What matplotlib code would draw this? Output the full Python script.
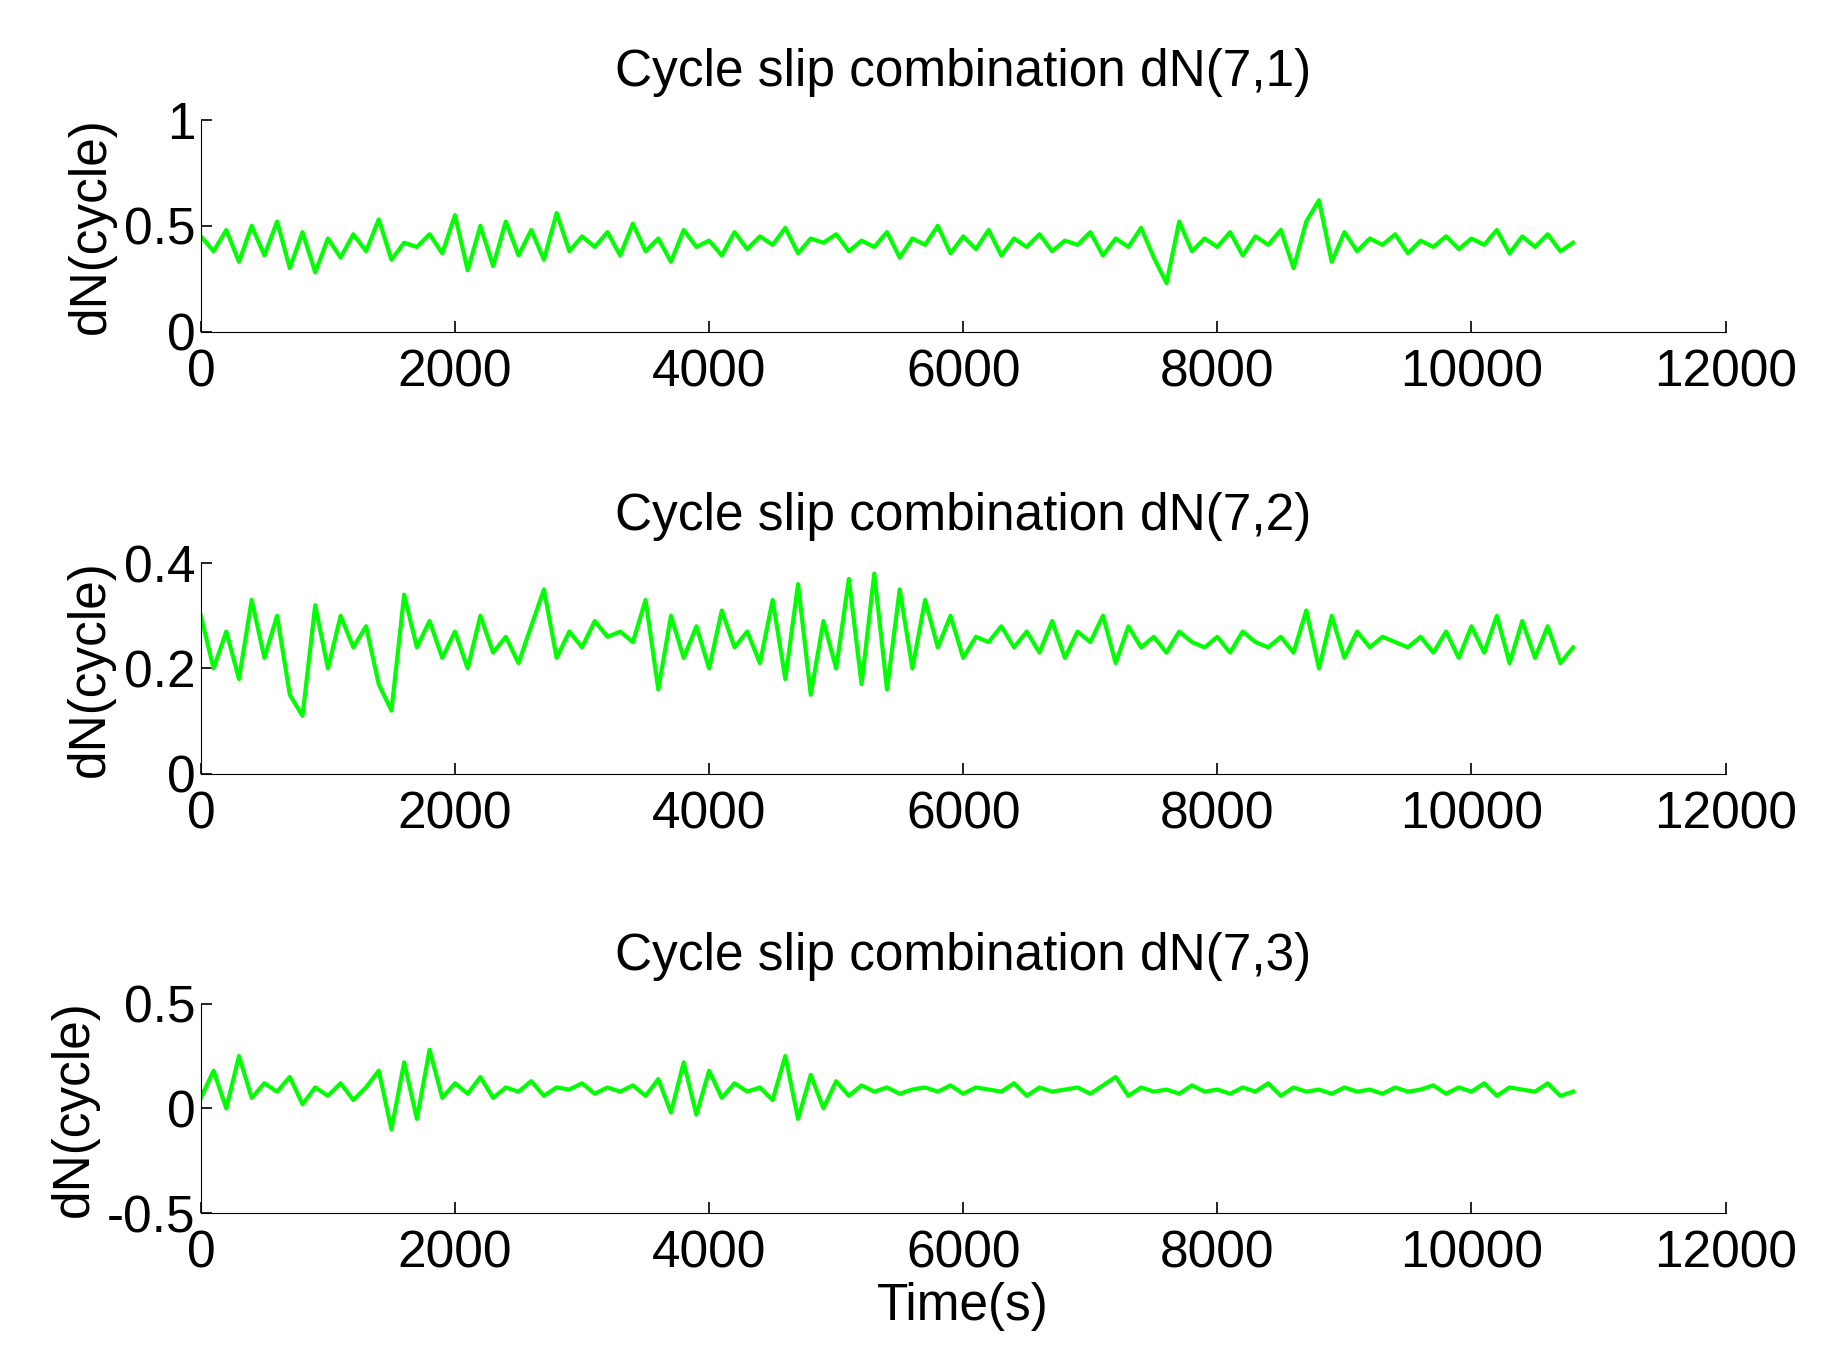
import matplotlib
matplotlib.use("Agg")
import matplotlib.pyplot as plt

plt.rcParams['font.family'] = ['Liberation Sans', 'DejaVu Sans']

time_s = list(range(0, 10900, 100))
dn71 = [0.45,0.38,0.48,0.33,0.50,0.36,0.52,0.30,0.47,0.28,
        0.44,0.35,0.46,0.38,0.53,0.34,0.42,0.40,0.46,0.37,
        0.55,0.29,0.50,0.31,0.52,0.36,0.48,0.34,0.56,0.38,
        0.45,0.40,0.47,0.36,0.51,0.38,0.44,0.33,0.48,0.40,
        0.43,0.36,0.47,0.39,0.45,0.41,0.49,0.37,0.44,0.42,
        0.46,0.38,0.43,0.40,0.47,0.35,0.44,0.41,0.50,0.37,
        0.45,0.39,0.48,0.36,0.44,0.40,0.46,0.38,0.43,0.41,
        0.47,0.36,0.44,0.40,0.49,0.35,0.23,0.52,0.38,0.44,
        0.40,0.47,0.36,0.45,0.41,0.48,0.30,0.52,0.62,0.33,
        0.47,0.38,0.44,0.41,0.46,0.37,0.43,0.40,0.45,0.39,
        0.44,0.41,0.48,0.37,0.45,0.40,0.46,0.38,0.42]
dn72 = [0.30,0.20,0.27,0.18,0.33,0.22,0.30,0.15,0.11,0.32,
        0.20,0.30,0.24,0.28,0.17,0.12,0.34,0.24,0.29,0.22,
        0.27,0.20,0.30,0.23,0.26,0.21,0.28,0.35,0.22,0.27,
        0.24,0.29,0.26,0.27,0.25,0.33,0.16,0.30,0.22,0.28,
        0.20,0.31,0.24,0.27,0.21,0.33,0.18,0.36,0.15,0.29,
        0.20,0.37,0.17,0.38,0.16,0.35,0.20,0.33,0.24,0.30,
        0.22,0.26,0.25,0.28,0.24,0.27,0.23,0.29,0.22,0.27,
        0.25,0.30,0.21,0.28,0.24,0.26,0.23,0.27,0.25,0.24,
        0.26,0.23,0.27,0.25,0.24,0.26,0.23,0.31,0.20,0.30,
        0.22,0.27,0.24,0.26,0.25,0.24,0.26,0.23,0.27,0.22,
        0.28,0.23,0.30,0.21,0.29,0.22,0.28,0.21,0.24]
dn73 = [0.05,0.18,0.00,0.25,0.05,0.12,0.08,0.15,0.02,0.10,
        0.06,0.12,0.04,0.10,0.18,-0.10,0.22,-0.05,0.28,0.05,
        0.12,0.07,0.15,0.05,0.10,0.08,0.13,0.06,0.10,0.09,
        0.12,0.07,0.10,0.08,0.11,0.06,0.14,-0.02,0.22,-0.03,
        0.18,0.05,0.12,0.08,0.10,0.04,0.25,-0.05,0.16,0.00,
        0.13,0.06,0.11,0.08,0.10,0.07,0.09,0.10,0.08,0.11,
        0.07,0.10,0.09,0.08,0.12,0.06,0.10,0.08,0.09,0.10,
        0.07,0.11,0.15,0.06,0.10,0.08,0.09,0.07,0.11,0.08,
        0.09,0.07,0.10,0.08,0.12,0.06,0.10,0.08,0.09,0.07,
        0.10,0.08,0.09,0.07,0.10,0.08,0.09,0.11,0.07,0.10,
        0.08,0.12,0.06,0.10,0.09,0.08,0.12,0.06,0.08]
titles = ["Cycle slip combination dN(7,1)", "Cycle slip combination dN(7,2)", "Cycle slip combination dN(7,3)"]
ylims = [(0, 1), (0, 0.4), (-0.5, 0.5)]
yticks = [[0, 0.5, 1], [0, 0.2, 0.4], [-0.5, 0, 0.5]]
ytl = [["0", "0.5", "1"], ["0", "0.2", "0.4"], ["-0.5", "0", "0.5"]]
series = [dn71, dn72, dn73]
boxes = [(0.912, 0.756), (0.586, 0.431), (0.262, 0.108)]

fig = plt.figure(figsize=(18.26, 13.60), dpi=100)
for i in range(3):
    top, bot = boxes[i]
    ax = fig.add_axes([0.11, bot, 0.835, top - bot])
    ax.plot(time_s, series[i], color="#00ff00", lw=3)
    ax.set_xlim(0, 12000)
    ax.set_ylim(*ylims[i])
    ax.set_xticks(range(0, 12001, 2000))
    ax.set_yticks(yticks[i])
    ax.set_yticklabels(ytl[i])
    ax.spines["top"].set_visible(False)
    ax.spines["right"].set_visible(False)
    ax.tick_params(labelsize=37, direction="in", length=8, width=1.2)
    ax.tick_params(axis="x", pad=12)
    ax.tick_params(axis="y", pad=4)
    ax.set_title(titles[i], fontsize=37, pad=24)
    ax.set_ylabel("dN(cycle)", fontsize=37, labelpad=6)
    if i == 2:
        ax.set_xlabel("Time(s)", fontsize=37, labelpad=2)
fig.savefig("out.png", dpi=100)
